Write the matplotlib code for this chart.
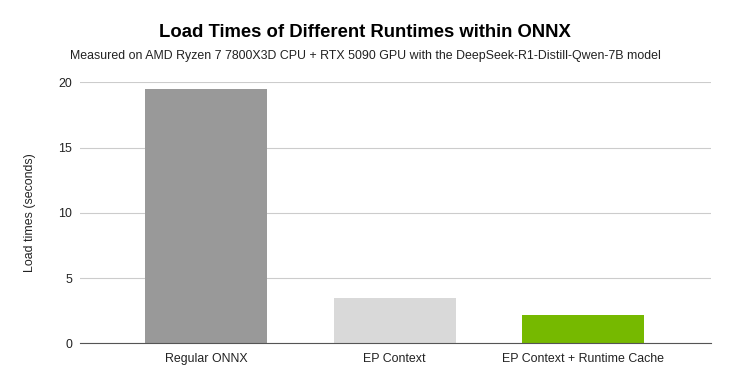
import matplotlib.pyplot as plt

plt.rcParams['font.family'] = ['Liberation Sans', 'DejaVu Sans']

runtimes = ["Regular ONNX", "EP Context", "EP Context + Runtime Cache"]
load_times = [19.45, 3.45, 2.2]
bar_colors = ["#999999", "#d9d9d9", "#76b900"]
y_ticks = [0, 5, 10, 15, 20]

fig = plt.figure(figsize=(7.3, 3.84), dpi=100)
ax = fig.add_axes([80 / 730, 1 - 343.3 / 384, 631 / 730, (343.3 - 82.3) / 384])

ax.bar(range(len(runtimes)), load_times, width=0.647, color=bar_colors, zorder=2)
ax.set_xlim(-0.668, 2.676)
ax.set_ylim(0, 20)
ax.set_yticks(y_ticks)
ax.set_xticks(range(len(runtimes)))
ax.set_xticklabels(runtimes)
ax.grid(axis='y', color='#cccccc', linewidth=0.8, zorder=0)
for s in ['top', 'right', 'left']:
    ax.spines[s].set_visible(False)
ax.spines['bottom'].set_color('#555555')
ax.spines['bottom'].set_zorder(3)
ax.tick_params(axis='both', length=0, labelsize=8.9, colors='#222222')
ax.tick_params(axis='y', pad=5.5)
ax.tick_params(axis='x', pad=7)
ax.set_ylabel("Load times (seconds)", fontsize=8.9, color='#222222', labelpad=16)

fig.text(0.5, 1 - 36.7 / 384, "Load Times of Different Runtimes within ONNX",
         ha='center', va='baseline', fontsize=13.3, fontweight='bold', color='#000000')
fig.text(0.5, 1 - 58.5 / 384,
         "Measured on AMD Ryzen 7 7800X3D CPU + RTX 5090 GPU with the DeepSeek-R1-Distill-Qwen-7B model",
         ha='center', va='baseline', fontsize=8.9, color='#222222')

fig.savefig("out.png", dpi=100)
